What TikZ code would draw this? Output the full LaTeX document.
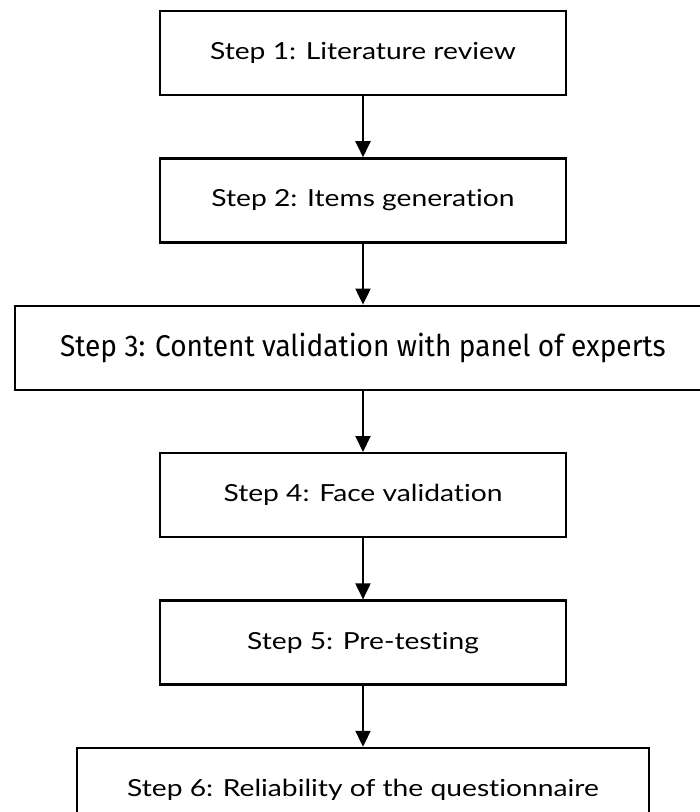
\documentclass[tikz,border=0pt]{standalone}
\usepackage{fontspec}
\setmainfont[Ligatures=NoCommon,FakeStretch=1.2]{Lato}
\newfontfamily\condfont[FakeStretch=0.935]{Fira Sans}
\usetikzlibrary{positioning,arrows.meta}

\begin{document}
\begin{tikzpicture}[-{Triangle[length=16pt,width=15pt]},line width=2pt,
  node distance=61pt,
  stage/.style={rectangle,draw,line width=2.4pt,fill=white,
    minimum width=406pt,minimum height=84pt,inner sep=0pt,
    font=\fontsize{23.5}{28}\selectfont}]
  \useasboundingbox (0,0) rectangle (700pt,-812pt);
  \node[stage] (s1) at (363pt,-53pt) {Step 1: Literature review};
  \node[stage] (s2) [below=of s1] {Step 2: Items generation};
  \node[stage, minimum width=696pt, font=\condfont\fontsize{30}{34}\selectfont]
    (s3) [below=of s2] {Step 3: Content validation with panel of experts};
  \node[stage] (s4) [below=of s3] {Step 4: Face validation};
  \node[stage] (s5) [below=of s4] {Step 5: Pre-testing};
  \node[stage, minimum width=572pt] (s6) [below=of s5]
    {Step 6: Reliability of the questionnaire};
  \path
     (s1) edge (s2)
     (s2) edge (s3)
     (s3) edge (s4)
     (s4) edge (s5)
     (s5) edge (s6);
\end{tikzpicture}
\end{document}
